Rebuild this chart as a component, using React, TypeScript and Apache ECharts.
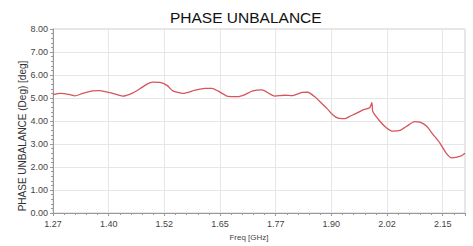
import React, { useEffect, useRef } from "react";
import * as echarts from "echarts";

const freqGHz = [
  1.270, 1.286, 1.308, 1.319, 1.337, 1.360, 1.375, 1.398, 1.414, 1.427,
  1.447, 1.465, 1.481, 1.494, 1.510, 1.526, 1.539, 1.562, 1.589, 1.611,
  1.627, 1.640, 1.663, 1.685, 1.701, 1.717, 1.739, 1.768, 1.791, 1.806,
  1.829, 1.842, 1.858, 1.874, 1.885, 1.898, 1.910, 1.925, 1.936, 1.952,
  1.966, 1.981, 1.986, 1.988, 2.004, 2.019, 2.033, 2.049, 2.064, 2.082,
  2.094, 2.109, 2.123, 2.138, 2.154, 2.165, 2.177, 2.188, 2.195,
];
const phaseDeg = [
  5.15, 5.20, 5.15, 5.09, 5.20, 5.31, 5.32, 5.23, 5.15, 5.08,
  5.20, 5.40, 5.60, 5.69, 5.68, 5.55, 5.31, 5.20, 5.34, 5.42,
  5.42, 5.31, 5.07, 5.06, 5.15, 5.30, 5.35, 5.08, 5.12, 5.10,
  5.24, 5.25, 5.05, 4.75, 4.55, 4.27, 4.12, 4.10, 4.20, 4.34,
  4.48, 4.58, 4.80, 4.41, 3.99, 3.70, 3.56, 3.59, 3.77, 3.97,
  3.95, 3.77, 3.42, 3.06, 2.57, 2.40, 2.43, 2.50, 2.60,
];
const xTickLabels = ["1.27", "1.40", "1.52", "1.65", "1.77", "1.90", "2.02", "2.15"];
const yTickLabels = ["0.00", "1.00", "2.00", "3.00", "4.00", "5.00", "6.00", "7.00", "8.00"];

const X0 = 1.27;
const XSTEP = 0.125;
const XMAX = 2.195;

export default function App() {
  const ref = useRef<HTMLDivElement>(null);
  useEffect(() => {
    if (!ref.current) return;
    const chart = echarts.init(ref.current, null, { renderer: "svg" });
    const data = freqGHz.map((f, i) => [f - X0, phaseDeg[i]]);
    const font = "Liberation Sans, Arial, sans-serif";
    chart.setOption({
      animation: false,
      title: {
        text: "PHASE UNBALANCE",
        left: 165,
        top: 4,
        textStyle: { fontFamily: font, fontSize: 15.5, fontWeight: "normal", color: "#111" },
      },
      graphic: [
        {
          type: "text",
          x: 22,
          y: 136,
          rotation: Math.PI / 2,
          style: {
            text: "PHASE UNBALANCE (Deg) [deg]",
            fontFamily: font,
            fontSize: 10,
            fill: "#333",
            align: "center",
            verticalAlign: "middle",
          },
        },
      ],
      grid: {
        left: 53,
        right: 8,
        top: 29,
        bottom: 29,
        show: true,
        borderColor: "#cfcfcf",
        borderWidth: 1,
      },
      xAxis: {
        type: "value",
        min: 0,
        max: XMAX - X0,
        interval: XSTEP,
        minorTick: { show: true, splitNumber: 5, length: 2, lineStyle: { color: "#999" } },
        axisLine: { lineStyle: { color: "#999" } },
        axisTick: { show: true, length: 3, lineStyle: { color: "#999" } },
        splitLine: { show: true, lineStyle: { color: "#e6e6e6" } },
        axisLabel: {
          fontFamily: font,
          fontSize: 9,
          color: "#444",
          margin: 6,
          showMaxLabel: false,
          formatter: (v: number) => {
            const k = Math.round(v / XSTEP);
            return Math.abs(v - k * XSTEP) < 1e-6 && k < xTickLabels.length ? xTickLabels[k] : "";
          },
        },
        name: "Freq [GHz]",
        nameLocation: "middle",
        nameGap: 20,
        nameTextStyle: { fontFamily: font, fontSize: 8, color: "#444", padding: [0, 20, 0, 0] },
      },
      yAxis: {
        type: "value",
        min: 0,
        max: 8,
        interval: 1,
        minorTick: { show: true, splitNumber: 5, length: 2, lineStyle: { color: "#999" } },
        axisLine: { show: true, lineStyle: { color: "#999" } },
        axisTick: { show: true, length: 3, lineStyle: { color: "#999" } },
        splitLine: { show: true, lineStyle: { color: "#e6e6e6" } },
        axisLabel: {
          fontFamily: font,
          fontSize: 9,
          color: "#444",
          margin: 5,
          formatter: (v: number) => yTickLabels[Math.round(v)] ?? "",
        },
      },
      series: [
        {
          type: "line",
          data,
          showSymbol: false,
          smooth: 0.2,
          lineStyle: { color: "#d6545a", width: 1.3 },
        },
      ],
    });
    return () => chart.dispose();
  }, []);
  return (
    <div
      ref={ref}
      style={{ position: "fixed", left: 0, top: 0, width: 473, height: 246, background: "#fff" }}
    />
  );
}
